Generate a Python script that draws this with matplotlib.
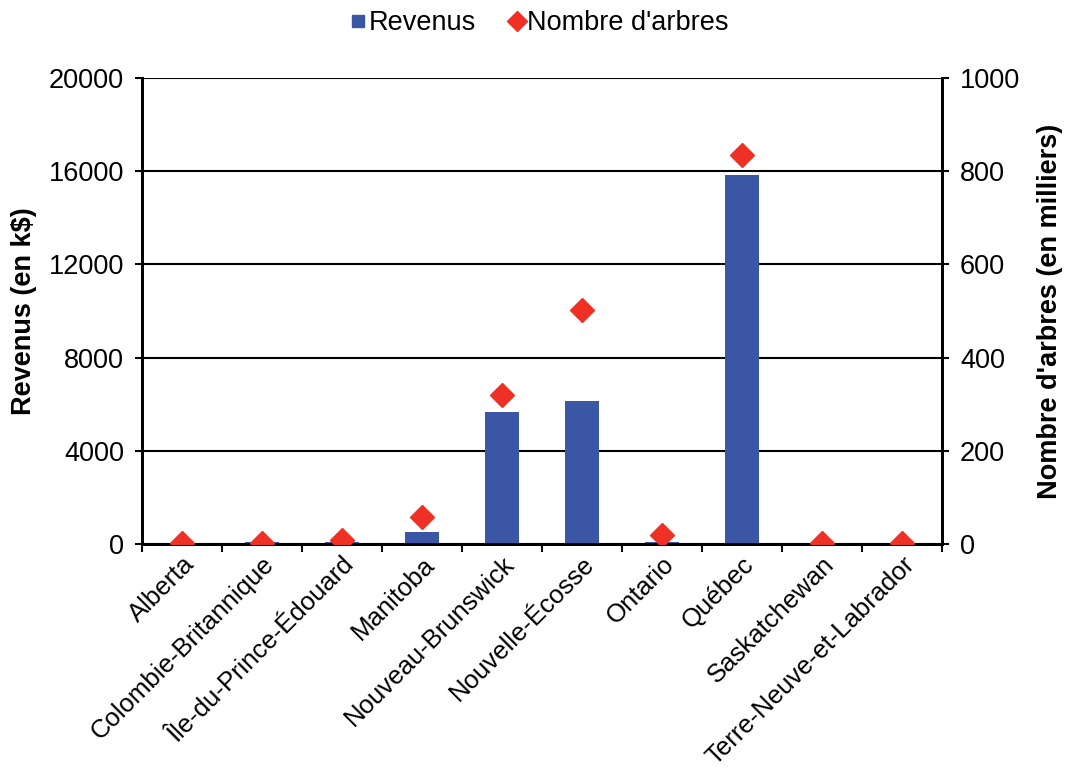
import matplotlib.pyplot as plt
import numpy as np
from matplotlib.lines import Line2D

plt.rcParams["font.family"] = ["Liberation Sans", "DejaVu Sans"]

provinces = [
    "Alberta", "Colombie-Britannique", "Île-du-Prince-Édouard", "Manitoba",
    "Nouveau-Brunswick", "Nouvelle-Écosse", "Ontario", "Québec",
    "Saskatchewan", "Terre-Neuve-et-Labrador",
]
revenus = [20, 90, 70, 500, 5650, 6150, 90, 15850, 10, 10]
arbres = [3, 3, 8, 58, 320, 502, 19, 835, 2, 2]

BLUE = "#3A56A5"
RED = "#EE3124"

fig = plt.figure(figsize=(10.66, 7.78), dpi=100)
ax = fig.add_axes([0.1332, 0.3008, 0.7505, 0.5989])
ax2 = ax.twinx()

x = np.arange(len(provinces))
ax.bar(x, revenus, width=0.42, color=BLUE, zorder=3)
ax2.plot(x, arbres, linestyle="none", marker="D", markersize=12, color=RED, zorder=4)

ax.set_xlim(-0.5, len(provinces) - 0.5)
ax.set_ylim(0, 20000)
ax.set_yticks(np.arange(0, 20001, 4000))
ax2.set_ylim(0, 1000)
ax2.set_yticks(np.arange(0, 1001, 200))
ax.yaxis.grid(True, color="black", linewidth=1.5, zorder=1)
ax.set_axisbelow(True)

ax.set_xticks(x)
ax.set_xticklabels(provinces, rotation=45, ha="right", rotation_mode="anchor", fontsize=18.5)
ax.set_xticks(np.arange(-0.5, len(provinces)), minor=True)
ax.tick_params(axis="x", which="major", length=0, pad=6)
ax.tick_params(axis="x", which="minor", length=6, width=1.5, direction="out")
ax.tick_params(axis="y", labelsize=19.5, length=5, width=1.5, pad=8)
ax2.tick_params(axis="y", labelsize=19.5, length=5, width=1.5, pad=8)

for a in (ax, ax2):
    a.spines["top"].set_visible(False)
    for s in ("left", "right", "bottom"):
        a.spines[s].set_linewidth(2)

ax.set_ylabel("Revenus (en k$)", fontsize=19.5, fontweight="bold", labelpad=8)
ax2.set_ylabel("Nombre d'arbres (en milliers)", fontsize=19.5, fontweight="bold", labelpad=12)

handles = [
    Line2D([], [], linestyle="none", marker="s", markersize=9, color=BLUE),
    Line2D([], [], linestyle="none", marker="D", markersize=10, color=RED),
]
fig.legend(handles, ["Revenus", "Nombre d'arbres"], loc="center",
           bbox_to_anchor=(0.506, 0.97), ncol=2, frameon=False, fontsize=19.5,
           handlelength=0.6, handletextpad=0.1, columnspacing=1.2)

fig.savefig("out.png", dpi=100)
